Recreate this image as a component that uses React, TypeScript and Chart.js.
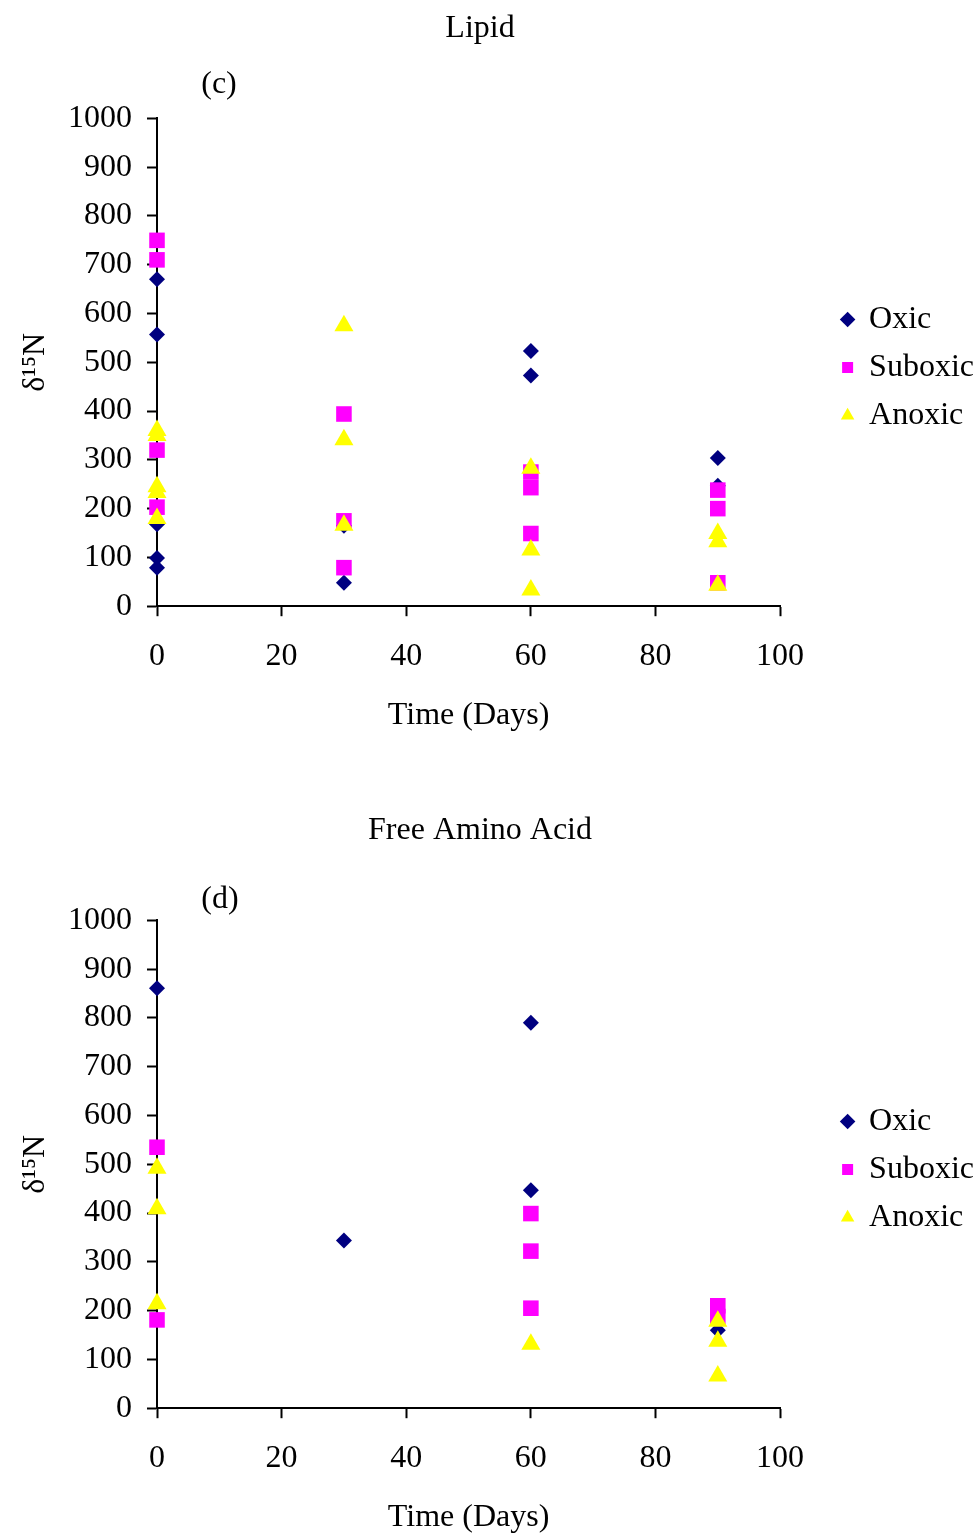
import React, { useEffect, useRef } from 'react';
import { Chart, registerables } from 'chart.js';

Chart.register(...registerables);

const FONT = "'Liberation Serif', 'Times New Roman', Times, serif";

// Lipid fraction (panel c)
const lipidOxicDays = [0, 0, 0, 0, 0, 30, 30, 60, 60, 90, 90];
const lipidOxicValues = [670, 557, 168, 99, 79, 165, 48, 523, 473, 304, 247];
const lipidSuboxicDays = [0, 0, 0, 0, 30, 30, 30, 60, 60, 60, 90, 90, 90];
const lipidSuboxicValues = [750, 710, 320, 203, 394, 175, 79, 275, 243, 149, 238, 200, 48];
const lipidAnoxicDays = [0, 0, 0, 0, 0, 30, 30, 30, 60, 60, 60, 90, 90, 90];
const lipidAnoxicValues = [360, 350, 245, 233, 180, 575, 341, 166, 283, 115, 33, 149, 132, 43];

// Free amino acid fraction (panel d)
const aminoOxicDays = [0, 30, 60, 60, 90];
const aminoOxicValues = [861, 344, 790, 447, 160];
const aminoSuboxicDays = [0, 0, 60, 60, 60, 90, 90];
const aminoSuboxicValues = [535, 181, 399, 322, 205, 210, 188];
const aminoAnoxicDays = [0, 0, 0, 60, 90, 90, 90];
const aminoAnoxicValues = [492, 409, 214, 131, 178, 137, 66];

const seriesNames = ['Oxic', 'Suboxic', 'Anoxic'];
const seriesColors = ['#000080', '#FF00FF', '#FFFF00'];
const seriesStyles = ['rectRot', 'rect', 'triangle'];
const seriesRadii = [8, 11, 11];

const xAxisTitle = 'Time (Days)';
const yAxisTitle = 'δ¹⁵N';

const toPoints = (xs: number[], ys: number[]) => xs.map((x, i) => ({ x, y: ys[i] }));

// the panel title is centred over the plot-plus-legend block; trailing
// non-breaking spaces nudge it left of the canvas centre
const panelTitle = (text: string) => text + '\u00A0\u00A0\u00A0';

const panelLabel = {
  id: 'panelLabel',
  afterDraw(chart: any, _args: any, opts: any) {
    if (!opts || !opts.text) return;
    const { ctx, chartArea } = chart;
    ctx.save();
    ctx.font = `32px ${FONT}`;
    ctx.fillStyle = '#000';
    ctx.textAlign = 'center';
    ctx.textBaseline = 'middle';
    ctx.fillText(opts.text, chartArea.left + opts.dx, chartArea.top + opts.dy);
    ctx.restore();
  },
};

type PanelProps = {
  title: string;
  label: string;
  labelDx: number;
  labelDy: number;
  series: { days: number[]; values: number[] }[];
};

function Panel({ title, label, labelDx, labelDy, series }: PanelProps) {
  const ref = useRef<HTMLCanvasElement>(null);

  useEffect(() => {
    if (!ref.current) return;
    const font = { family: FONT, size: 32, weight: 'normal' as const };
    const axisGrid = {
      drawOnChartArea: false,
      drawTicks: true,
      tickLength: 10,
      tickColor: '#000',
      tickWidth: 2,
    };
    const chart = new Chart(ref.current, {
      type: 'scatter',
      data: {
        datasets: series.map((s, i) => ({
          label: seriesNames[i],
          data: toPoints(s.days, s.values),
          pointStyle: seriesStyles[i] as any,
          pointRadius: seriesRadii[i],
          pointHoverRadius: seriesRadii[i],
          backgroundColor: seriesColors[i],
          borderColor: seriesColors[i],
          borderWidth: 0,
          clip: false as any,
          order: 3 - i,
        })),
      },
      options: {
        animation: false,
        responsive: true,
        maintainAspectRatio: false,
        layout: { padding: { left: 0, right: -7, top: 0, bottom: 67 } },
        plugins: {
          title: {
            display: true,
            text: panelTitle(title),
            font,
            color: '#000',
            padding: { top: 9, bottom: 71 },
          },
          legend: {
            position: 'right',
            align: 'center',
            labels: {
              usePointStyle: true,
              boxWidth: 11,
              boxHeight: 11,
              padding: 16,
              font,
              color: '#000',
              sort: (a: any, b: any) => a.datasetIndex - b.datasetIndex,
            },
          },
          tooltip: { enabled: false },
          panelLabel: { text: label, dx: labelDx, dy: labelDy },
        } as any,
        scales: {
          x: {
            type: 'linear',
            min: 0,
            max: 100,
            ticks: {
              stepSize: 20,
              font,
              color: '#000',
              padding: 21,
              maxRotation: 0,
              callback: (v: any) => String(v),
            },
            grid: axisGrid,
            border: { display: true, color: '#000', width: 2 },
            title: {
              display: true,
              text: xAxisTitle,
              font,
              color: '#000',
              padding: { top: 0, bottom: 0 },
            },
          },
          y: {
            type: 'linear',
            min: 0,
            max: 1000,
            ticks: {
              stepSize: 100,
              autoSkip: false,
              font,
              color: '#000',
              padding: 15,
              callback: (v: any) => String(v),
            },
            grid: axisGrid,
            border: { display: true, color: '#000', width: 2 },
            title: {
              display: true,
              text: yAxisTitle,
              font,
              color: '#000',
              padding: { top: 16, bottom: 0 },
            },
            afterFit: (scale: any) => {
              scale.width = 157;
            },
          },
          // blank spacer between the plot and the legend
          gap: {
            type: 'linear',
            position: 'right',
            display: true,
            ticks: { display: false },
            grid: { display: false, drawTicks: false },
            border: { display: false },
            afterFit: (scale: any) => {
              scale.width = 46;
            },
          },
        },
      },
      plugins: [panelLabel],
    });
    return () => chart.destroy();
  }, [title, label, labelDx, labelDy, series]);

  return (
    <div style={{ position: 'relative', width: 977, height: 802 }}>
      <canvas ref={ref} />
    </div>
  );
}

const lipidSeries = [
  { days: lipidOxicDays, values: lipidOxicValues },
  { days: lipidSuboxicDays, values: lipidSuboxicValues },
  { days: lipidAnoxicDays, values: lipidAnoxicValues },
];

const aminoSeries = [
  { days: aminoOxicDays, values: aminoOxicValues },
  { days: aminoSuboxicDays, values: aminoSuboxicValues },
  { days: aminoAnoxicDays, values: aminoAnoxicValues },
];

export default function App() {
  return (
    <div
      style={{
        position: 'absolute',
        left: 0,
        top: 0,
        width: 977,
        height: 1536,
        overflow: 'hidden',
        background: '#fff',
      }}
    >
      <Panel title="Lipid" label="(c)" labelDx={62} labelDy={-34} series={lipidSeries} />
      <Panel title="Free Amino Acid" label="(d)" labelDx={63} labelDy={-21} series={aminoSeries} />
    </div>
  );
}
